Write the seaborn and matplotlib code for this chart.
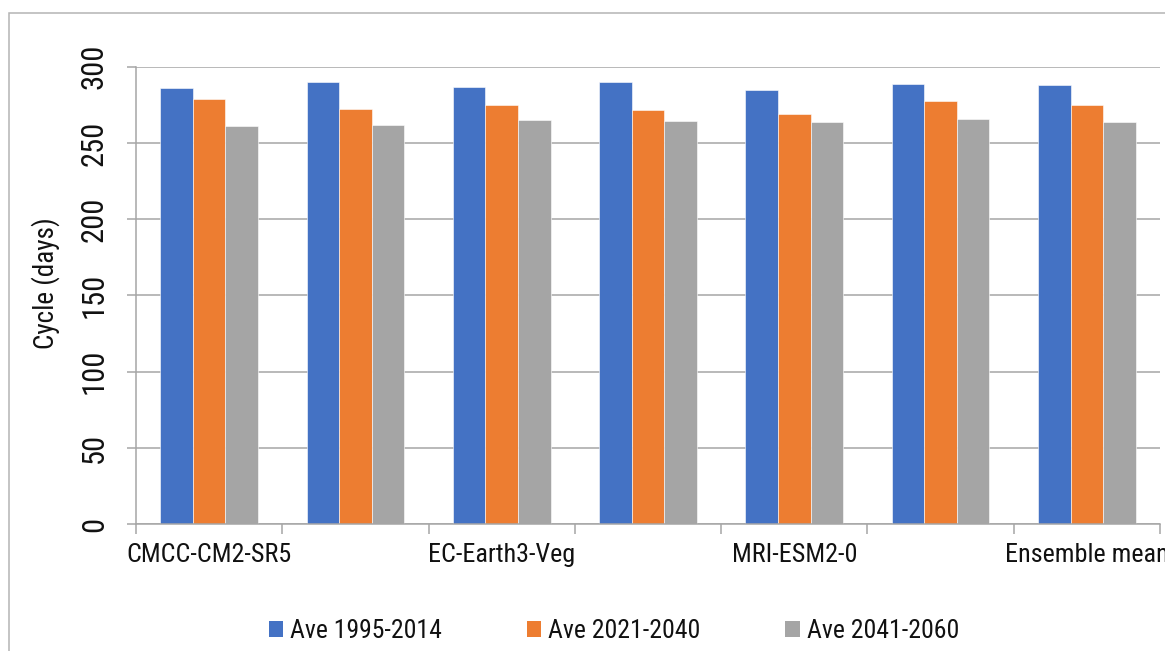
import matplotlib
matplotlib.use("Agg")
import matplotlib.pyplot as plt
from matplotlib import font_manager
from matplotlib.patches import Patch, Rectangle
from matplotlib.ticker import FixedLocator
import numpy as np
import pandas as pd
import seaborn as sns

# Average cycle length (days) per model and period
tick_labels = ["CMCC-CM2-SR5", "", "EC-Earth3-Veg", "", "MRI-ESM2-0", "", "Ensemble mean"]
periods = ["Ave 1995-2014", "Ave 2021-2040", "Ave 2041-2060"]
ave_1995_2014 = [286.0, 290.1, 286.9, 290.1, 284.4, 288.6, 287.9]
ave_2021_2040 = [278.8, 272.2, 275.1, 271.6, 269.2, 277.2, 274.6]
ave_2041_2060 = [260.9, 261.8, 265.0, 264.1, 263.5, 265.9, 263.5]
colors = ["#4472C4", "#ED7D31", "#A5A5A5"]

sns.set_theme(style="white")
installed = {f.name for f in font_manager.fontManager.ttflist}
family = [f for f in ["Roboto Condensed", "Roboto", "DejaVu Sans"] if f in installed]
plt.rcParams["font.family"] = family

rows = []
for series, vals in zip(periods, [ave_1995_2014, ave_2021_2040, ave_2041_2060]):
    for i, v in enumerate(vals):
        rows.append({"idx": i, "period": series, "value": v})
df = pd.DataFrame(rows)

W, H = 1165, 651
fig = plt.figure(figsize=(W / 100, H / 100), dpi=100)
ax = fig.add_axes([136 / W, 1 - 524 / H, (1160 - 136) / W, (524 - 66.7) / H])

sns.barplot(data=df, x="idx", y="value", hue="period", hue_order=periods,
            palette=colors, width=0.667, gap=0, saturation=1,
            edgecolor="white", linewidth=0.4, legend=False, ax=ax)

grid_c = "#A6A6A6"
ax.set_ylim(0, 300)
ax.set_xlim(-0.5, len(tick_labels) - 0.5)
ax.set_yticks(np.arange(0, 301, 50))
ax.yaxis.grid(True, color=grid_c, linewidth=1.1)
ax.set_axisbelow(True)
for s in ["top", "right"]:
    ax.spines[s].set_visible(False)
for s in ["left", "bottom"]:
    ax.spines[s].set_color(grid_c)
    ax.spines[s].set_linewidth(1.1)

ax.tick_params(axis="y", which="major", direction="out", length=6.5, width=1.1,
               color=grid_c, pad=13, labelsize=22, labelcolor="#111111",
               left=True, labelrotation=90)
for lab in ax.get_yticklabels():
    lab.set_verticalalignment("center")

ax.set_xticks(range(len(tick_labels)))
ax.set_xticklabels(tick_labels)
ax.xaxis.set_minor_locator(FixedLocator(np.arange(-0.5, len(tick_labels), 1.0)))
ax.tick_params(axis="x", which="major", length=0, pad=14, labelsize=18.8,
               labelcolor="#111111")
ax.tick_params(axis="x", which="minor", direction="out", length=7, width=1.1,
               color=grid_c, bottom=True)

ax.set_xlabel("")
ax.set_ylabel("Cycle (days)", fontsize=19.5, color="#111111")
ax.yaxis.set_label_coords(-0.074, 0.527)

handles = [Patch(facecolor=c, edgecolor="none") for c in colors]
fig.legend(handles, periods, loc="center", bbox_to_anchor=(614 / W, 1 - 631 / H),
           ncol=3, frameon=False, fontsize=18.5, handlelength=0.55, handleheight=0.55,
           handletextpad=0.28, columnspacing=3.3, labelcolor="#111111")

# outer chart frame
fig.add_artist(Rectangle((8.5 / W, -0.1), 2, 1 - 12.5 / H + 0.1,
                         transform=fig.transFigure, fill=False,
                         edgecolor="#B4B4B4", linewidth=1.1))

fig.savefig("out.png", dpi=100)
